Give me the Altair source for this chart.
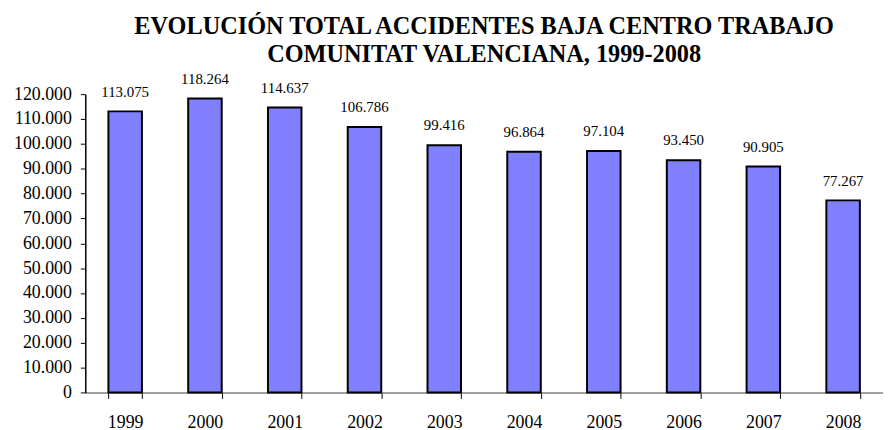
import altair as alt
import pandas as pd

years = ["1999", "2000", "2001", "2002", "2003", "2004", "2005", "2006", "2007", "2008"]
values = [113075, 118264, 114637, 106786, 99416, 96864, 97104, 93450, 90905, 77267]
labels = ["113.075", "118.264", "114.637", "106.786", "99.416", "96.864", "97.104", "93.450", "90.905", "77.267"]

df = pd.DataFrame({"year": years, "value": values, "label": labels})

FONT = "Liberation Serif"

x = alt.X("year:N", title=None, sort=years,
          scale=alt.Scale(paddingInner=0.58, paddingOuter=0.29),
          axis=alt.Axis(labelAngle=0, labelFontSize=18, labelFont=FONT, labelColor="black",
                        labelPadding=15, domainColor="#808080", domainWidth=1.5, labelOverlap=False,
                        tickColor="black", tickSize=6, tickBand="extent", grid=False))
y = alt.Y("value:Q", title=None,
          scale=alt.Scale(domain=[0, 120000], nice=False),
          axis=alt.Axis(values=list(range(0, 120001, 10000)), labelExpr="replace(format(datum.value, ',d'), /,/g, '.')",
                        labelFontSize=18, labelFont=FONT, labelColor="black", labelPadding=9, labelOverlap=False,
                        domainColor="black", domainWidth=1.5, tickColor="black", tickSize=5, grid=False))

bars = alt.Chart(df).mark_bar(color="#8080FF", stroke="black", strokeWidth=2).encode(x=x, y=y)
text = alt.Chart(df).mark_text(dy=-20, fontSize=15, font=FONT, color="black").encode(
    x=x, y=y, text="label:N")

chart = (bars + text).properties(
    width=805, height=301,
    title=alt.TitleParams(["EVOLUCIÓN TOTAL ACCIDENTES BAJA CENTRO TRABAJO", "COMUNITAT VALENCIANA, 1999-2008"],
                          font=FONT, fontSize=24.5, fontWeight="bold", color="black", anchor="middle",
                          lineHeight=29, offset=4),
    padding={"left": 5, "top": 3, "right": 0, "bottom": 0},
).configure_view(stroke=None)

chart.save("out.html", embed_options={"renderer": "svg", "actions": False})
